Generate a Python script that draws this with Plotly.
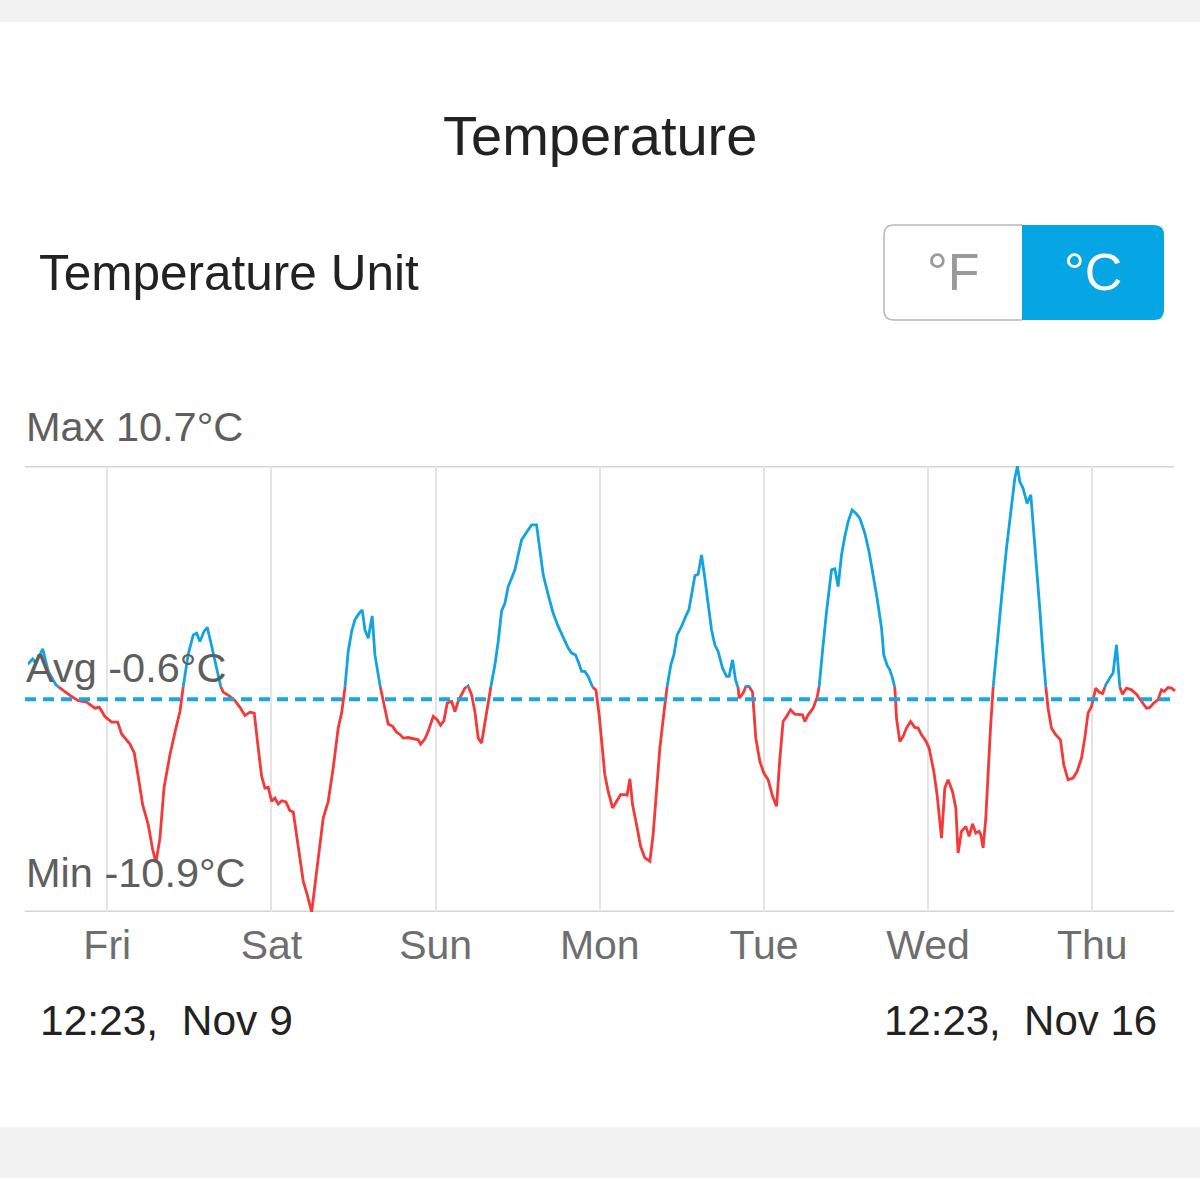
import pandas as pd
import plotly.graph_objects as go

# ---------------- data ----------------
# hours since 2017-11-09 00:00 (Thu) ; temperature in °C
hours = [12.38, 13.10, 13.58, 14.56, 15.38, 16.50, 17.57, 18.55, 19.76, 20.99,
         22.20, 22.83, 23.66, 24.64, 25.52, 26.10, 27.32, 27.95, 28.68, 29.17,
         29.99, 30.64, 31.12, 31.70, 32.29, 33.16, 34.04, 34.63, 35.11, 35.84,
         36.57, 37.07, 37.55, 38.13, 38.62, 39.11, 39.74, 40.47, 40.95, 41.93,
         42.67, 43.40, 44.13, 44.86, 45.49, 46.07, 46.57, 47.05, 47.53, 48.03,
         48.51, 48.99, 49.49, 50.12, 50.70, 51.19, 51.92, 52.65, 53.23, 53.88,
         54.61, 55.57, 56.30, 57.03, 57.76, 58.26, 58.74, 59.22, 59.72, 60.20,
         60.83, 61.27, 61.67, 62.15, 62.73, 63.13, 63.86, 64.34, 65.07, 65.71,
         66.30, 66.78, 67.26, 67.99, 68.73, 69.46, 69.81, 70.44, 70.92, 71.65,
         72.23, 72.73, 73.21, 73.70, 74.34, 74.82, 75.30, 75.80, 76.28, 76.76,
         77.26, 77.74, 78.23, 78.72, 79.45, 80.04, 80.67, 81.15, 81.65, 82.13,
         82.61, 83.11, 83.59, 84.07, 84.57, 85.30, 86.03, 86.76, 87.24, 87.73,
         88.46, 89.19, 89.92, 90.65, 91.38, 91.88, 92.46, 92.94, 93.34, 93.82,
         94.30, 94.95, 95.43, 95.91, 96.74, 97.23, 97.87, 98.46, 99.04, 99.67,
         100.00, 100.40, 100.79, 101.38, 101.96, 102.59, 103.32, 103.80, 104.30, 104.78,
         105.37, 105.85, 106.39, 106.83, 107.31, 107.95, 108.69, 109.02, 109.42, 109.90,
         110.38, 110.88, 111.36, 111.84, 112.34, 112.82, 113.30, 113.95, 114.53, 114.91,
         115.41, 115.85, 116.23, 116.37, 116.96, 117.35, 117.83, 118.33, 118.81, 119.40,
         119.98, 120.61, 121.26, 121.84, 122.32, 122.80, 123.30, 123.89, 124.51, 125.25,
         125.64, 125.98, 126.46, 127.19, 127.77, 128.07, 128.56, 129.15, 129.88, 130.36,
         130.84, 131.34, 131.82, 132.31, 132.89, 133.43, 134.02, 134.75, 135.37, 135.96,
         136.54, 137.19, 137.52, 138.01, 138.40, 138.79, 139.13, 139.38, 139.86, 140.34,
         140.84, 141.43, 142.05, 142.54, 143.03, 143.66, 144.14, 144.83, 145.31, 145.96,
         146.44, 146.92, 147.56, 148.05, 148.38, 148.88, 149.51, 149.99, 150.49, 150.97,
         151.45, 151.70, 152.04, 152.43, 152.77, 153.12, 153.50, 154.00, 154.73, 155.46,
         156.19, 156.67, 157.06, 157.40, 157.88, 158.47, 159.01, 159.45, 159.84, 160.32,
         160.81, 161.20, 161.54, 162.03, 162.66, 163.35, 163.83, 164.46, 165.19, 165.78,
         166.42, 166.90, 167.38, 167.88, 168.51, 168.99, 169.49, 169.97, 170.56, 171.04,
         171.53, 171.91, 172.41, 173.00, 173.73, 174.46, 175.19, 175.92, 176.40, 176.99,
         177.61, 178.11, 178.49, 179.08, 179.57, 180.10]
temps = [1.10, 1.36, 1.15, 1.85, 0.75, 0.10, -0.19, -0.41, -0.67, -0.74,
         -1.03, -0.98, -1.43, -1.70, -1.70, -2.28, -2.77, -3.20, -4.65, -5.70,
         -6.67, -7.88, -8.50, -7.32, -4.90, -3.28, -1.99, -1.19, 0.02, 1.59,
         2.52, 2.60, 2.20, 2.68, 2.89, 2.20, 1.20, 0.10, -0.25, -0.46,
         -0.67, -0.99, -1.38, -1.22, -1.27, -2.96, -4.33, -4.90, -4.86, -5.54,
         -5.38, -5.67, -5.51, -5.57, -5.99, -6.06, -7.64, -9.41, -10.06, -10.90,
         -8.93, -6.35, -5.54, -3.93, -1.99, -1.27, -0.06, 1.72, 2.68, 3.25,
         3.57, 3.73, 2.76, 2.36, 3.44, 1.55, 0.10, -0.70, -1.80, -1.91,
         -2.19, -2.30, -2.48, -2.45, -2.51, -2.56, -2.77, -2.51, -2.15, -1.43,
         -1.59, -1.86, -1.64, -0.78, -0.70, -1.19, -0.70, -0.35, -0.06, 0.05,
         -0.38, -1.19, -2.48, -2.72, -1.19, -0.06, 1.07, 2.20, 3.68, 4.05,
         4.86, 5.26, 5.67, 6.39, 7.12, 7.49, 7.85, 7.85, 6.72, 5.43,
         4.46, 3.57, 2.93, 2.36, 1.88, 1.64, 1.55, 1.15, 0.75, 0.75,
         0.51, 0.00, -0.14, -1.35, -4.25, -5.06, -5.86, -5.54, -5.22, -5.22,
         -5.25, -4.45, -5.70, -6.67, -7.72, -8.28, -8.44, -7.15, -5.22, -2.96,
         -1.27, 0.02, 1.07, 1.55, 2.52, 2.93, 3.52, 3.73, 4.46, 5.39,
         5.46, 6.39, 5.26, 3.97, 2.76, 2.04, 1.72, 0.91, 0.51, 0.51,
         1.31, 0.35, -0.06, -0.54, -0.30, 0.02, 0.02, -0.25, -2.48, -3.61,
         -4.17, -4.49, -5.30, -5.78, -3.50, -1.67, -1.43, -1.11, -1.32, -1.32,
         -1.35, -1.67, -1.35, -1.03, -0.51, 0.02, 1.72, 3.65, 5.67, 5.72,
         4.86, 6.39, 7.28, 8.01, 8.57, 8.41, 8.17, 7.44, 6.55, 5.51,
         4.30, 2.85, 1.55, 1.04, 0.83, 0.43, -0.03, -1.51, -2.64, -2.40,
         -1.99, -1.67, -1.96, -1.99, -2.32, -2.61, -2.96, -4.09, -5.22, -7.32,
         -4.90, -4.49, -5.06, -5.86, -8.04, -6.99, -6.75, -7.24, -6.63, -7.07,
         -6.99, -7.16, -7.80, -6.35, -3.93, -1.99, -0.06, 1.88, 4.30, 6.72,
         8.81, 10.10, 10.70, 9.94, 9.62, 8.89, 9.30, 7.52, 5.75, 3.81,
         1.55, 0.02, -1.03, -1.99, -2.32, -2.56, -3.77, -4.49, -4.41, -4.09,
         -3.45, -2.48, -1.27, -0.95, -0.06, -0.25, -0.32, 0.10, 0.43, 0.67,
         2.04, 0.10, -0.35, -0.06, -0.14, -0.35, -0.67, -1.03, -0.99, -0.78,
         -0.62, -0.14, -0.22, -0.03, -0.06, -0.19]

t_max, t_avg, t_min = 10.7, -0.6, -10.9
threshold = 0.0          # colour switches at freezing point
day_labels = ["Fri", "Sat", "Sun", "Mon", "Tue", "Wed", "Thu"]
start_label, end_label = "12:23,  Nov 9", "12:23,  Nov 16"

base = pd.Timestamp("2017-11-09 00:00")
start = pd.Timestamp("2017-11-09 12:23")
end = pd.Timestamp("2017-11-16 12:23")

# ---------------- split into above / below threshold ----------------
ah, at, bh, bt = [], [], [], []
prev_above = None
for i in range(len(hours)):
    h, t = hours[i], temps[i]
    above = t > threshold
    if i > 0 and above != prev_above:
        h0, t0 = hours[i - 1], temps[i - 1]
        hc = h0 + (threshold - t0) * (h - h0) / (t - t0)
        ah.append(hc); at.append(threshold)
        bh.append(hc); bt.append(threshold)
        if prev_above:
            ah.append(None); at.append(None)
        else:
            bh.append(None); bt.append(None)
    if above:
        ah.append(h); at.append(t)
    else:
        bh.append(h); bt.append(t)
    prev_above = above


def to_time(hs):
    return [None if h is None else base + pd.Timedelta(hours=h) for h in hs]


BLUE = "#12a3e0"
RED = "#f53838"
W, H = 1200, 1200


def px(x):
    return x / W


def py(y):
    return 1 - y / H


fig = go.Figure()
fig.add_trace(go.Scatter(x=to_time(bh), y=bt, mode="lines",
                         line=dict(color=RED, width=2.8), connectgaps=False,
                         hoverinfo="skip", showlegend=False))
fig.add_trace(go.Scatter(x=to_time(ah), y=at, mode="lines",
                         line=dict(color=BLUE, width=2.8), connectgaps=False,
                         hoverinfo="skip", showlegend=False))

FONT = "Liberation Sans"
shapes = [
    dict(type="rect", xref="paper", yref="paper", x0=0, x1=1, y0=py(0), y1=py(22),
         fillcolor="#f2f2f2", line=dict(width=0), layer="below"),
    dict(type="rect", xref="paper", yref="paper", x0=0, x1=1, y0=py(1127), y1=py(1178),
         fillcolor="#f2f2f2", line=dict(width=0), layer="below"),
    # top (max) and bottom (min) rules
    dict(type="line", xref="paper", yref="y", x0=px(25), x1=px(1174), y0=t_max, y1=t_max,
         line=dict(color="#d4d4d4", width=3), layer="below"),
    dict(type="line", xref="paper", yref="y", x0=px(25), x1=px(1174), y0=t_min, y1=t_min,
         line=dict(color="#d4d4d4", width=3), layer="below"),
    # average dashed line
    dict(type="line", xref="paper", yref="y", x0=px(25), x1=px(1174), y0=t_avg, y1=t_avg,
         line=dict(color="#1aa6e2", width=4, dash="11px,7px"), layer="above"),
    # unit toggle
    dict(type="path", xref="paper", yref="paper",
         path=(f"M {px(1022)},{py(225)} L {px(1154)},{py(225)} "
               f"Q {px(1164)},{py(225)} {px(1164)},{py(235)} "
               f"L {px(1164)},{py(310)} Q {px(1164)},{py(320)} {px(1154)},{py(320)} "
               f"L {px(1022)},{py(320)} Z"),
         fillcolor="#05a6e3", line=dict(width=0)),
    dict(type="path", xref="paper", yref="paper",
         path=(f"M {px(1022)},{py(225)} L {px(894)},{py(225)} "
               f"Q {px(884)},{py(225)} {px(884)},{py(235)} "
               f"L {px(884)},{py(310)} Q {px(884)},{py(320)} {px(894)},{py(320)} "
               f"L {px(1022)},{py(320)}"),
         fillcolor="rgba(0,0,0,0)", line=dict(color="#b8b8b8", width=1.5)),
]

annotations = [
    dict(text="Temperature", x=0.5, y=py(135), xref="paper", yref="paper",
         showarrow=False, font=dict(family=FONT, size=56, color="#222222"),
         xanchor="center", yanchor="middle"),
    dict(text="Temperature Unit", x=px(37), y=py(272), xref="paper", yref="paper",
         showarrow=False, font=dict(family=FONT, size=49.5, color="#222222"),
         xanchor="left", yanchor="middle"),
    dict(text="°F", x=px(953), y=py(272), xref="paper", yref="paper",
         showarrow=False, font=dict(family=FONT, size=52, color="#9a9a9a"),
         xanchor="center", yanchor="middle"),
    dict(text="°C", x=px(1093), y=py(272), xref="paper", yref="paper",
         showarrow=False, font=dict(family=FONT, size=52, color="#ffffff"),
         xanchor="center", yanchor="middle"),
    dict(text=f"Max {t_max}°C", x=px(24), y=py(426), xref="paper", yref="paper",
         showarrow=False, font=dict(family=FONT, size=41.5, color="#5e5e5e"),
         xanchor="left", yanchor="middle"),
    dict(text=f"Avg {t_avg}°C", x=px(24), y=py(667), xref="paper", yref="paper",
         showarrow=False, font=dict(family=FONT, size=41.5, color="#5e5e5e"),
         xanchor="left", yanchor="middle"),
    dict(text=f"Min {t_min}°C", x=px(24), y=py(872), xref="paper", yref="paper",
         showarrow=False, font=dict(family=FONT, size=41.5, color="#5e5e5e"),
         xanchor="left", yanchor="middle"),
    dict(text=start_label, x=px(38), y=py(1020), xref="paper", yref="paper",
         showarrow=False, font=dict(family=FONT, size=42.5, color="#222222"),
         xanchor="left", yanchor="middle"),
    dict(text=end_label, x=px(1159), y=py(1020), xref="paper", yref="paper",
         showarrow=False, font=dict(family=FONT, size=42, color="#222222"),
         xanchor="right", yanchor="middle"),
]

tickvals = [pd.Timestamp("2017-11-10") + pd.Timedelta(days=i) for i in range(len(day_labels))]

fig.update_layout(
    width=W, height=H,
    margin=dict(l=0, r=0, t=0, b=0),
    paper_bgcolor="white", plot_bgcolor="white",
    shapes=shapes, annotations=annotations,
    xaxis=dict(domain=[px(27.8), px(1177)], range=[start, end],
               tickvals=tickvals, ticktext=day_labels,
               showgrid=True, gridcolor="#e4e4e4", gridwidth=1.5,
               showline=False,
               ticks="", ticklabelstandoff=5,
               tickfont=dict(family=FONT, size=41, color="#6e6e6e"),
               zeroline=False, fixedrange=True),
    yaxis=dict(domain=[py(912), py(466)], range=[t_min, t_max],
               showgrid=False, showticklabels=False, zeroline=False,
               showline=False, fixedrange=True),
)

fig.write_html("out.html")
